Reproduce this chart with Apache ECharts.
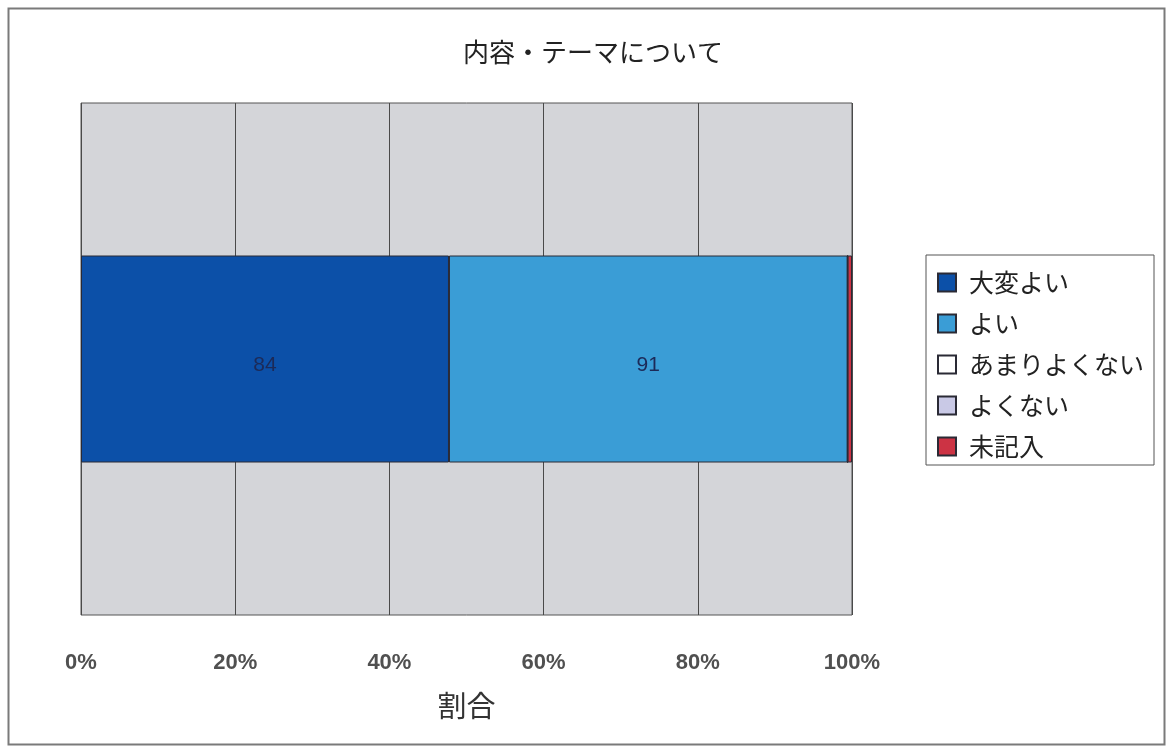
<!DOCTYPE html>
<html>
<head>
<meta charset="utf-8">
<style>
  html, body { margin: 0; padding: 0; background: #ffffff; }
  #chart { width: 1170px; height: 746px; }
</style>
<script src="https://cdn.jsdelivr.net/npm/echarts@6/dist/echarts.min.js"></script>
</head>
<body>
<div id="chart"></div>
<script>
// Survey responses about content/theme, drawn as a 100% stacked bar
const chartTitle = '内容・テーマについて';
const categories = ['内容・テーマ'];
const seriesNames = ['大変よい', 'よい', 'あまりよくない', 'よくない', '未記入'];
const counts = [84, 91, 0, 0, 1];
const seriesColors = ['#0c50a8', '#3a9dd6', '#ffffff', '#c9c9e6', '#cc3344'];
const xTicks = [0, 20, 40, 60, 80, 100];
const xAxisName = '割合';

const total = counts.reduce((a, b) => a + b, 0);
const shares = counts.map(c => c / total * 100);

const series = seriesNames.map((name, i) => ({
  name: name,
  type: 'bar',
  stack: 'all',
  barWidth: 207,
  data: [shares[i]],
  itemStyle: { color: seriesColors[i], borderColor: '#2a2a35', borderWidth: 1 },
  label: {
    show: counts[i] > 1,
    position: 'inside',
    formatter: () => String(counts[i]),
    color: '#1c2a58',
    fontFamily: 'Liberation Sans Narrow, Liberation Sans',
    fontSize: 21,
    offset: [0, 6]
  },
  emphasis: { disabled: true }
}));

const chart = echarts.init(document.getElementById('chart'), null, { renderer: 'canvas' });
chart.setOption({
  animation: false,
  backgroundColor: '#ffffff',
  graphic: [{
    type: 'rect',
    shape: { x: 8.5, y: 8.5, width: 1156, height: 736 },
    style: { fill: 'none', stroke: '#7a7a7a', lineWidth: 2 },
    silent: true
  }],
  title: {
    text: chartTitle,
    left: 588,
    textAlign: 'center',
    top: 34,
    textStyle: {
      fontFamily: 'Noto Sans CJK JP',
      fontSize: 26,
      fontWeight: 'normal',
      color: '#222'
    }
  },
  legend: {
    orient: 'vertical',
    left: 926,
    top: 255,
    padding: [15, 10, 6, 11],
    itemGap: 16,
    itemWidth: 18,
    itemHeight: 18,
    borderColor: '#555',
    borderWidth: 1,
    icon: 'rect',
    data: seriesNames,
    textStyle: {
      fontFamily: 'Noto Sans CJK JP',
      fontSize: 25,
      color: '#222',
      padding: [0, 0, 0, 8]
    }
  },
  grid: {
    left: 81,
    top: 103,
    width: 771,
    height: 512,
    show: true,
    backgroundColor: '#d4d5d9',
    borderColor: '#555',
    borderWidth: 1
  },
  xAxis: {
    type: 'value',
    min: xTicks[0],
    max: xTicks[xTicks.length - 1],
    interval: xTicks[1] - xTicks[0],
    name: xAxisName,
    nameLocation: 'middle',
    nameGap: 76,
    nameTextStyle: {
      fontFamily: 'Noto Sans CJK JP',
      fontSize: 29,
      color: '#333'
    },
    axisLine: { show: false },
    axisTick: { show: false },
    axisLabel: {
      margin: 37,
      formatter: '{value}%',
      fontFamily: 'Liberation Sans',
      fontWeight: 'bold',
      fontSize: 22,
      color: '#505050'
    },
    splitLine: { show: true, lineStyle: { color: '#4a4a4a', width: 1 } }
  },
  yAxis: {
    type: 'category',
    data: categories,
    axisLine: { show: false },
    axisTick: { show: false },
    axisLabel: { show: false },
    splitLine: { show: false }
  },
  series: series
});
</script>
</body>
</html>
